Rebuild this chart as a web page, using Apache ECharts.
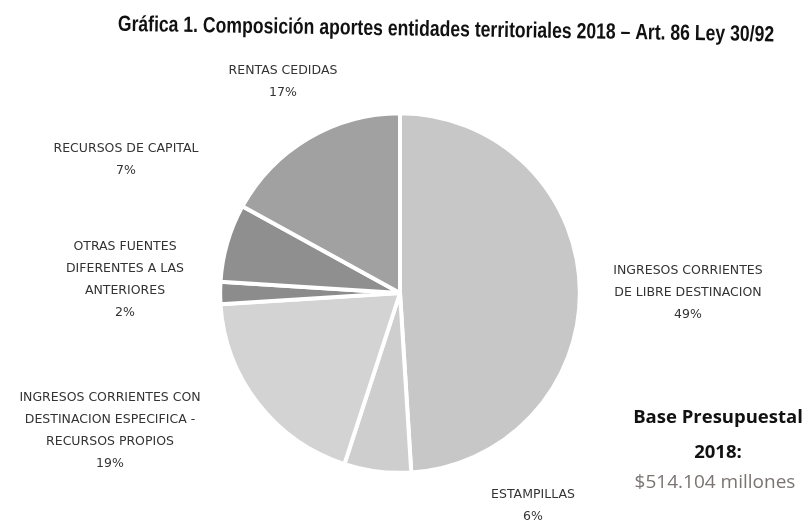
<!DOCTYPE html>
<html>
<head>
<meta charset="utf-8">
<script src="https://cdn.jsdelivr.net/npm/echarts@6/dist/echarts.min.js"></script>
<style>
  html, body { margin: 0; padding: 0; background: #fff; }
  #chart { width: 809px; height: 529px; }
</style>
</head>
<body>
<div id="chart"></div>
<script>
// fuentes de los aportes (en el orden del grafico, sentido horario desde arriba)
const categories = [
    'INGRESOS CORRIENTES\nDE LIBRE DESTINACION',
    'ESTAMPILLAS',
    'INGRESOS CORRIENTES CON\nDESTINACION ESPECIFICA -\nRECURSOS PROPIOS',
    'OTRAS FUENTES\nDIFERENTES A LAS\nANTERIORES',
    'RECURSOS DE CAPITAL',
    'RENTAS CEDIDAS'
];
const shares = [49, 6, 19, 2, 7, 17];
const sliceColors = ['#c7c7c7', '#cecece', '#d3d3d3', '#8c8c8c', '#8f8f8f', '#a1a1a1'];
// donde van las etiquetas (centro del texto)
const labelPos = [[688, 293], [533, 506], [110, 431], [125, 280], [126, 160], [283, 82]];

const myChart = echarts.init(document.getElementById('chart'));

const option = {
    animation: false,
    graphic: [
        {
            // titulo, un poco inclinado como en el escaneo
            type: 'text', x: 446, y: 30, rotation: -0.016, scaleX: 0.8,
            style: {
                text: 'Gráfica 1. Composición aportes entidades territoriales 2018 – Art. 86 Ley 30/92',
                font: 'bold 22px "Liberation Sans"', fill: '#111',
                textAlign: 'center', textVerticalAlign: 'middle'
            }
        },
        {
            type: 'text', x: 718, y: 418,
            style: { text: 'Base Presupuestal', font: 'bold 18.5px "Open Sans"', fill: '#111', textAlign: 'center', textVerticalAlign: 'middle' }
        },
        {
            type: 'text', x: 718, y: 453,
            style: { text: '2018:', font: 'bold 18.5px "Open Sans"', fill: '#111', textAlign: 'center', textVerticalAlign: 'middle' }
        },
        {
            type: 'text', x: 715, y: 483,
            style: { text: '$514.104 millones', font: '19px "Open Sans"', fill: '#7a7472', textAlign: 'center', textVerticalAlign: 'middle' }
        }
    ],
    series: [
        {
            type: 'pie',
            center: [400, 293],
            radius: '68%',
            startAngle: 90,
            clockwise: true,
            itemStyle: { borderColor: '#fff', borderWidth: 4 },
            label: {
                show: true,
                position: 'outside',
                fontFamily: 'DejaVu Sans',
                fontSize: 12.5,
                lineHeight: 22,
                color: '#333',
                align: 'center',
                formatter: p => p.name + '\n' + Math.round(p.percent) + '%'
            },
            labelLine: { show: false },
            labelLayout: p => ({
                x: labelPos[p.dataIndex][0],
                y: labelPos[p.dataIndex][1],
                align: 'center',
                verticalAlign: 'middle'
            }),
            data: categories.map((name, i) => ({
                name: name,
                value: shares[i],
                itemStyle: { color: sliceColors[i] }
            }))
        }
    ]
};
myChart.setOption(option);
</script>
</body>
</html>
